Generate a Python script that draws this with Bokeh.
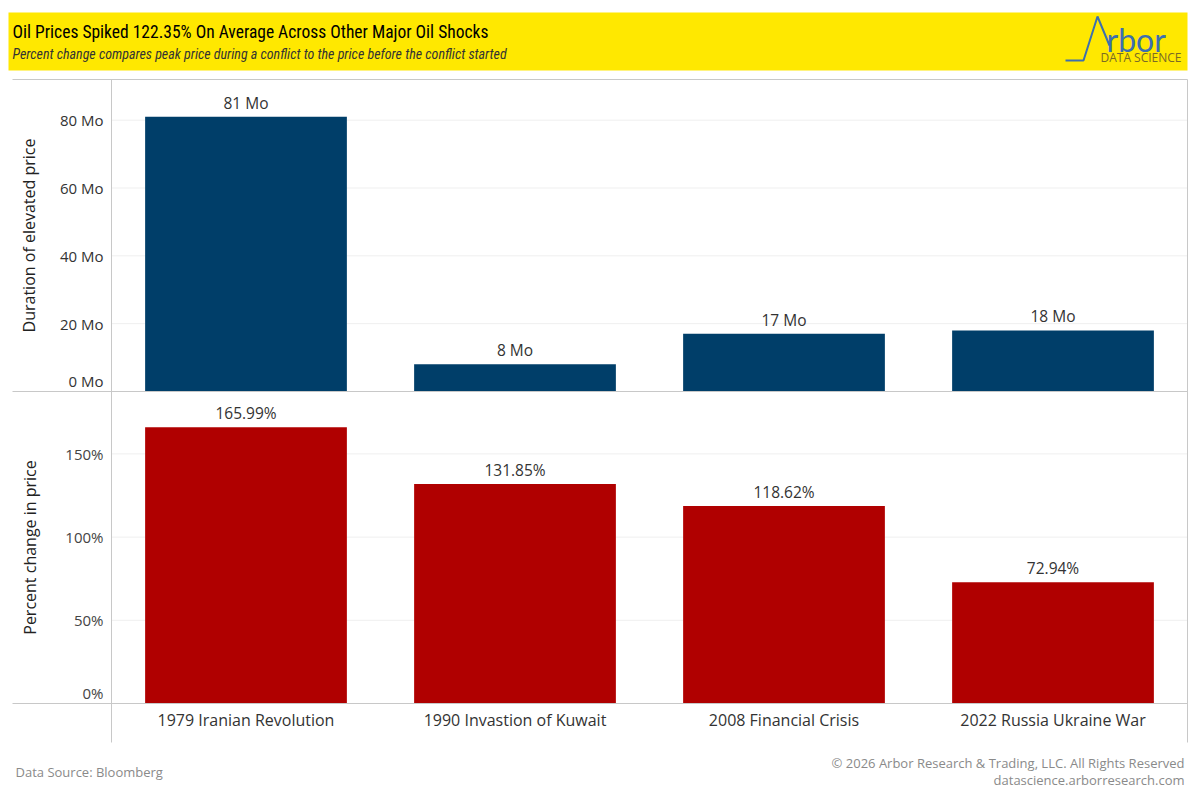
from bokeh.plotting import figure
from bokeh.models import Range1d, LinearAxis, FixedTicker, ColumnDataSource
from bokeh.core.properties import value
from bokeh.embed import file_html
from bokeh.resources import INLINE

# ---------------- data ----------------
categories = ["1979 Iranian Revolution", "1990 Invastion of Kuwait",
              "2008 Financial Crisis", "2022 Russia Ukraine War"]
duration_months = [81, 8, 17, 18]
percent_change = [165.99, 131.85, 118.62, 72.94]
duration_ticks = [0, 20, 40, 60, 80]
percent_ticks = [0, 50, 100, 150]
duration_max = 92
percent_max = 187.5

title_text = "Oil Prices Spiked 122.35% On Average Across Other Major Oil Shocks"
subtitle_text = "Percent change compares peak price during a conflict to the price before the conflict started"
source_text = "Data Source: Bloomberg"
copyright_text = "\u00a9 2026 Arbor Research & Trading, LLC. All Rights Reserved"
site_text = "datascience.arborresearch.com"

# ---------------- layout (page pixels) ----------------
OX, OY, W, H = 0, 0, 1196, 796
LEFT_EDGE, PLOT_L, PLOT_R = 12, 111, 1187
TOP, MID, BOT, FOOT = 79, 391, 703, 742
FONT = "Open Sans"
NARROW = "Liberation Sans Narrow, Roboto Condensed, Roboto"
NAVY = "#003e69"
RED = "#b00000"
YELLOW = "#ffe800"
DIV = "#c8c8c8"
GRID = "#efefef"

n = len(categories)
unit = (PLOT_R - PLOT_L) / n
cat_range = Range1d(-0.5 - (PLOT_L - OX) / unit, n - 0.5 + (OX + W - PLOT_R) / unit)
s1 = (MID - TOP) / duration_max
dur_range = Range1d(-(OY + H - MID) / s1, (MID - OY) / s1)
s2 = (BOT - MID) / percent_max
pct_range = Range1d(-(OY + H - BOT) / s2, (BOT - OY) / s2)

p = figure(width=W, height=H, x_range=Range1d(OX, OX + W), y_range=Range1d(OY + H, OY),
           output_backend="svg", toolbar_location=None, min_border=0,
           x_axis_type=None, y_axis_type=None)
p.outline_line_color = None
p.background_fill_color = "white"
p.border_fill_color = "white"
p.extra_x_ranges = {"cat": cat_range}
p.extra_y_ranges = {"dur": dur_range, "pct": pct_range}

# ---------------- header ----------------
p.quad(left=[8], right=[PLOT_R], top=[12], bottom=[70], fill_color=YELLOW, line_color=None)
p.text(x=[12], y=[31], text=[title_text], text_font=value(NARROW), text_font_size="17.5px",
       text_color="#000000", text_align="left", text_baseline="middle")
p.text(x=[12], y=[53], text=[subtitle_text], text_font=value(NARROW), text_font_size="14px",
       text_font_style="italic", text_color="#333333", text_align="left", text_baseline="middle")
# logo
p.line(x=[1065, 1083, 1097, 1109], y=[60, 60, 16, 45], line_color="#3d6fae", line_width=2)
p.text(x=[1106], y=[39], text=["rbor"], text_font=value("Lato"), text_font_size="32px",
       text_color="#3d6fae", text_align="left", text_baseline="middle")
p.text(x=[1181], y=[57], text=["DATA SCIENCE"], text_font=value(FONT), text_font_size="12px",
       text_color="#7a6a26", text_align="right", text_baseline="middle")

# ---------------- gridlines ----------------
dg = [t for t in duration_ticks if t > 0]
p.segment(x0=[-0.5] * len(dg), x1=[n - 0.5] * len(dg), y0=dg, y1=dg, line_color=GRID,
          line_width=1, x_range_name="cat", y_range_name="dur")
pg = [t for t in percent_ticks if t > 0]
p.segment(x0=[-0.5] * len(pg), x1=[n - 0.5] * len(pg), y0=pg, y1=pg, line_color=GRID,
          line_width=1, x_range_name="cat", y_range_name="pct")

# ---------------- bars ----------------
xs = list(range(n))
src1 = ColumnDataSource(dict(x=xs, top=duration_months,
                             label=[f"{v} Mo" for v in duration_months]))
src2 = ColumnDataSource(dict(x=xs, top=percent_change,
                             label=[f"{v:.2f}%" for v in percent_change]))
p.vbar(x="x", top="top", bottom=0, width=0.75, source=src1, fill_color=NAVY, line_color=None,
       x_range_name="cat", y_range_name="dur")
p.vbar(x="x", top="top", bottom=0, width=0.75, source=src2, fill_color=RED, line_color=None,
       x_range_name="cat", y_range_name="pct")
for src, rn in ((src1, "dur"), (src2, "pct")):
    p.text(x="x", y="top", text="label", source=src, x_range_name="cat", y_range_name=rn,
           text_font=value(FONT), text_font_size="15.5px", text_color="#333333",
           text_align="center", text_baseline="middle", y_offset=-14)

# ---------------- dividers ----------------
p.segment(x0=[LEFT_EDGE, LEFT_EDGE, LEFT_EDGE, PLOT_L, PLOT_R],
          x1=[PLOT_R, PLOT_R, PLOT_R, PLOT_L, PLOT_R],
          y0=[TOP, MID, BOT, TOP, TOP], y1=[TOP, MID, BOT, FOOT, FOOT],
          line_color=DIV, line_width=1)

# ---------------- axes ----------------
def y_axis(ticks, fmt, rng, nudge_px, scale, top, label, standoff, color):
    nudge = nudge_px / scale
    pos = [nudge if t == 0 else t for t in ticks]
    ax = LinearAxis(x_range_name="cat", y_range_name=rng, fixed_location=-0.5,
                    ticker=FixedTicker(ticks=pos), bounds=(0, top),
                    major_label_overrides={q: fmt(t) for q, t in zip(pos, ticks)})
    ax.axis_line_color = None
    ax.major_tick_line_color = None
    ax.minor_tick_line_color = None
    ax.major_tick_out = 0
    ax.major_tick_in = 0
    ax.major_label_standoff = 8
    ax.major_label_text_font = FONT
    ax.major_label_text_font_size = "15px"
    ax.major_label_text_color = color
    ax.axis_label = label
    ax.axis_label_text_font = FONT
    ax.axis_label_text_font_size = "16px"
    ax.axis_label_text_font_style = "normal"
    ax.axis_label_text_color = "#222222"
    ax.axis_label_standoff = standoff
    p.add_layout(ax, "left")

y_axis(duration_ticks, lambda t: f"{t} Mo", "dur", 11, s1, duration_max,
       "Duration of elevated price", 17, "#333333")
y_axis(percent_ticks, lambda t: f"{t}%", "pct", 11, s2, percent_max,
       "Percent change in price", 21, "#444444")

xax = LinearAxis(x_range_name="cat", y_range_name="pct", fixed_location=0,
                 ticker=FixedTicker(ticks=xs), bounds=(-0.5, n - 0.5),
                 major_label_overrides={i: c for i, c in zip(xs, categories)})
xax.axis_line_color = None
xax.major_tick_line_color = None
xax.minor_tick_line_color = None
xax.major_tick_out = 0
xax.major_tick_in = 0
xax.major_label_standoff = 5
xax.major_label_text_font = FONT
xax.major_label_text_font_size = "16px"
xax.major_label_text_color = "#333333"
p.add_layout(xax, "below")

# ---------------- footer ----------------
p.text(x=[15], y=[771], text=[source_text], text_font=value(FONT), text_font_size="13px",
       text_color="#8a8a8a", text_align="left", text_baseline="middle")
p.text(x=[1184, 1184], y=[762, 779], text=[copyright_text, site_text], text_font=value(FONT),
       text_font_size="13px", text_color="#8a8a8a", text_align="right", text_baseline="middle")

open("out.html", "w").write(file_html(p, INLINE))
